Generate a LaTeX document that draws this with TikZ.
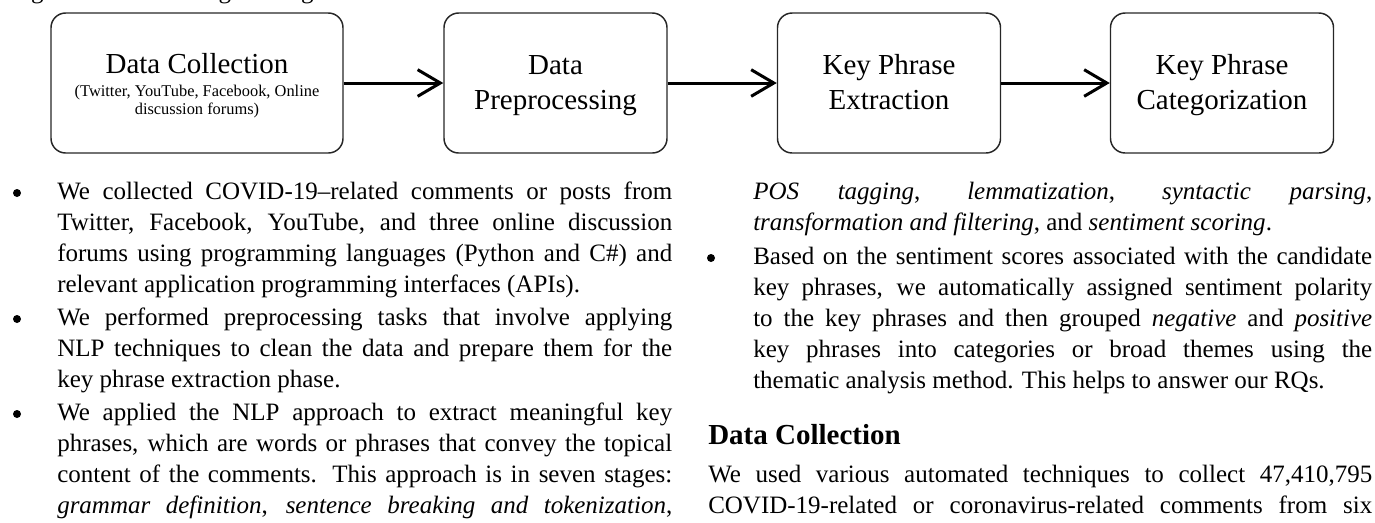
\documentclass[tikz,border=0pt]{standalone}
\usepackage{fontspec}
\setmainfont{Liberation Serif}
\usetikzlibrary{arrows.meta}
% one justified line of a given width
\newcommand{\jl}[2]{\makebox[#1][s]{#2}}
\newcommand{\bodyfont}{\fontsize{18.75}{23.25}\selectfont}
\newcommand{\stagefont}{\fontsize{21.75}{26.25}\selectfont}
\begin{document}
\begin{tikzpicture}[x=0.75pt,y=-0.75pt,
  stage/.style={draw=black!85, line width=1.1pt, rounded corners=11pt,
    minimum height=105pt, minimum width=167.25pt, inner sep=0pt},
  flow/.style={line width=2.25pt, -{Straight Barb[length=17pt,width=20pt]}},
  stagetext/.style={font=\stagefont, anchor=base, inner sep=0pt},
  subtext/.style={font=\fontsize{12.3}{12.75}\selectfont, anchor=base, inner sep=0pt},
  % multi-line blocks are placed by the baseline of their last line
  para/.style={font=\bodyfont, anchor=base west, align=left, inner sep=0pt},
  line/.style={font=\bodyfont, anchor=base west, inner sep=0pt},
  dot/.style={circle, fill=black, inner sep=0pt, minimum size=6pt}]
\useasboundingbox (0,0) rectangle (1375,522);

% caption line above the stages (only its descenders reach the page)
\node[line] (cap) at (10,-1.5) {Figure 1. Methodological stages.};

% the four stages
\node[stage, minimum width=219pt] (s1) at (197,83) {};
\node[stage] (s2) at (555.5,83) {};
\node[stage] (s3) at (889,83) {};
\node[stage] (s4) at (1222,83) {};

\node[stagetext] (s1t) at (197,73) {Data Collection};
\node[subtext] (s1a) at (197,96) {(Twitter, YouTube, Facebook, Online};
\node[subtext] (s1b) at (197,114) {discussion forums)};
\node[stagetext] (s2a) at (555.5,74) {Data};
\node[stagetext] (s2b) at (555.5,109) {Preprocessing};
\node[stagetext] (s3a) at (889,74) {Key Phrase};
\node[stagetext] (s3b) at (889,109) {Extraction};
\node[stagetext] (s4a) at (1222,74) {Key Phrase};
\node[stagetext] (s4b) at (1222,109) {Categorization};

\draw[flow] (s1) -- (s2);
\draw[flow] (s2) -- (s3);
\draw[flow] (s3) -- (s4);

% left column
\node[dot] (d1) at (17,193) {};
\node[para] (p1) at (57,292) {%
\jl{461.25pt}{We collected COVID-19–related comments or posts from}\\
\jl{461.25pt}{Twitter, Facebook, YouTube, and three online discussion}\\
\jl{461.25pt}{forums using programming languages (Python and C\#) and}\\
relevant application programming interfaces (APIs).};
\node[dot] (d2) at (17,319) {};
\node[para] (p2) at (57,387) {%
\jl{461.25pt}{We performed preprocessing tasks that involve applying}\\
\jl{461.25pt}{NLP techniques to clean the data and prepare them for the}\\
key phrase extraction phase.};
\node[dot] (d3) at (17,414) {};
\node[para] (p3) at (57,513) {%
\jl{461.25pt}{We applied the NLP approach to extract meaningful key}\\
\jl{461.25pt}{phrases, which are words or phrases that convey the topical}\\
\jl{461.25pt}{content of the comments. This approach is in seven stages:}\\
\jl{461.25pt}{\textit{grammar definition}, \textit{sentence breaking and tokenization},}};

% right column
\node[para] (p3c) at (753,230) {%
\jl{464.25pt}{\textit{POS tagging}, \textit{lemmatization}, \textit{syntactic parsing},}\\
\textit{transformation and filtering}, and \textit{sentiment scoring}.};
\node[dot] (d4) at (711,258) {};
\node[para] (p4) at (753,388) {%
\jl{464.25pt}{Based on the sentiment scores associated with the candidate}\\
\jl{464.25pt}{key phrases, we automatically assigned sentiment polarity}\\
\jl{464.25pt}{to the key phrases and then grouped \textit{negative} and \textit{positive}}\\
\jl{464.25pt}{key phrases into categories or broad themes using the}\\
thematic analysis method. This helps to answer our RQs.};

\node[anchor=base west, inner sep=0pt, font=\bfseries\fontsize{21.75}{26}\selectfont] (hd) at (708,444) {Data Collection};
\node[para] (p5) at (708,513) {%
\jl{498pt}{We used various automated techniques to collect 47,410,795}\\
\jl{498pt}{COVID-19-related or coronavirus-related comments from six}};
\end{tikzpicture}
\end{document}
